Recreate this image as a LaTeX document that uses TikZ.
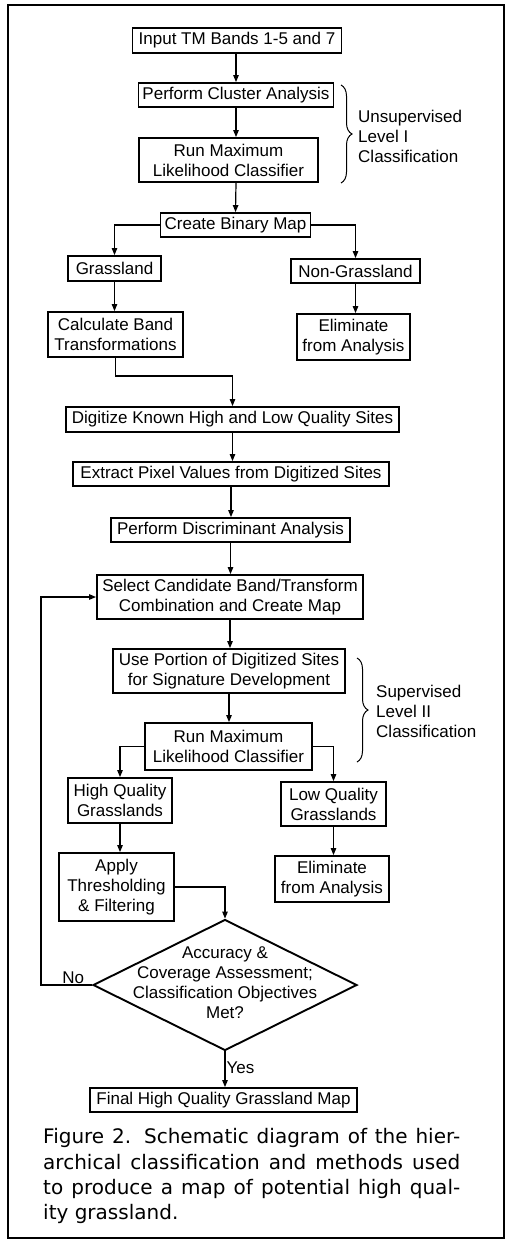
\documentclass[tikz,border=0pt]{standalone}
\usepackage{fontspec}
\setmainfont{Liberation Sans}
\newfontfamily\capfont{DejaVu Sans}
\usetikzlibrary{arrows.meta,shapes.geometric,decorations.pathreplacing,calc}
\begin{document}
\begin{tikzpicture}[x=1pt,y=-1pt,
  box/.style={draw, line width=1.9pt, align=center, inner sep=1pt, font=\fontsize{17}{20}\selectfont},
  arr/.style={line width=1.2pt, -{Triangle[length=7pt,width=5.5pt]}},
  lbl/.style={font=\fontsize{17}{20}\selectfont, align=left, inner sep=0pt},
  brc/.style={decorate, decoration={brace, amplitude=11pt}, line width=1pt},
  captxt/.style={font=\capfont\fontsize{20}{25}\selectfont, anchor=base west, inner sep=0pt}
]
\useasboundingbox (0,0) rectangle (510,1242);
\draw[line width=1.5pt] (8,5) rectangle (504,1238);

% boxes
\node[box, minimum width=209pt, minimum height=25pt] (in) at (237,40.5) {Input TM Bands 1-5 and 7};
\node[box, minimum width=195pt, minimum height=24pt] (clus) at (236,95) {Perform Cluster Analysis};
\node[box, minimum width=179pt, minimum height=44pt] (ml1) at (228.5,160) {Run Maximum\\Likelihood Classifier};
\node[box, minimum width=150pt, minimum height=24pt] (bin) at (235.5,225) {Create Binary Map};
\node[box, minimum width=93pt, minimum height=25pt] (grass) at (114.5,268.5) {Grassland};
\node[box, minimum width=129pt, minimum height=24pt] (nong) at (355.5,271) {Non-Grassland};
\node[box, minimum width=135pt, minimum height=45pt] (calc) at (115.5,334.5) {Calculate Band\\Transformations};
\node[box, minimum width=113pt, minimum height=46pt] (elim1) at (353.5,337) {Eliminate\\from Analysis};
\node[box, minimum width=333pt, minimum height=25pt] (dig) at (232.5,419.5) {Digitize Known High and Low Quality Sites};
\node[box, minimum width=316pt, minimum height=24pt] (ext) at (231,474) {Extract Pixel Values from Digitized Sites};
\node[box, minimum width=239pt, minimum height=24pt] (disc) at (230.5,530) {Perform Discriminant Analysis};
\node[box, minimum width=266pt, minimum height=44pt] (sel) at (230,597) {Select Candidate Band/Transform\\Combination and Create Map};
\node[box, minimum width=232pt, minimum height=44pt] (use) at (229,671) {Use Portion of Digitized Sites\\for Signature Development};
\node[box, minimum width=167pt, minimum height=47pt] (ml2) at (228.5,746.5) {Run Maximum\\Likelihood Classifier};
\node[box, minimum width=104pt, minimum height=45pt] (hq) at (120,800.5) {High Quality\\Grasslands};
\node[box, minimum width=105pt, minimum height=44pt] (lq) at (333.5,804) {Low Quality\\Grasslands};
\node[box, minimum width=115pt, minimum height=68pt] (apply) at (116.5,887) {Apply\\Thresholding\\\& Filtering};
\node[box, minimum width=114pt, minimum height=46pt] (elim2) at (332,879) {Eliminate\\from Analysis};
\node[draw, diamond, line width=1.9pt, minimum width=264pt, minimum height=131pt, inner sep=0pt,
      font=\fontsize{17}{20}\selectfont] (dia) at (225,985)
  {\smash{\makebox[0pt]{\raisebox{-4pt}{\begin{tabular}{@{}c@{}}Accuracy \&\\Coverage Assessment;\\Classification Objectives\\Met?\end{tabular}}}}};
\node[box, minimum width=267pt, minimum height=24pt] (fin) at (223.5,1100) {Final High Quality Grassland Map};

% braces and side labels
\coordinate (b1s) at (341,85);
\coordinate (b1e) at (341,183);
\draw[brc] (b1s) -- (b1e);
\node[lbl, anchor=west] (lab1) at (358,136) {Unsupervised\\Level I\\Classification};
\coordinate (b2s) at (357,658);
\coordinate (b2e) at (357,762);
\draw[brc] (b2s) -- (b2e);
\node[lbl, anchor=west] (lab2) at (376,711) {Supervised\\Level II\\Classification};

% connectors
\draw[arr] (in.south -| clus.north) -- (clus.north);
\draw[arr] (clus.south) -- (clus.south |- ml1.north);
\draw[arr] (clus.south |- ml1.south) -- (bin.north);
\draw[arr] (bin.west) -| (grass.north);
\draw[arr] (bin.east) -| (nong.north);
\draw[arr] (grass.south) -- (grass.south |- calc.north);
\draw[arr] (nong.south) -- (nong.south |- elim1.north);
\draw[arr] (calc.south) -- ++(0,18) -| (dig.north);
\draw[arr] (dig.south) -- (dig.south |- ext.north);
\draw[arr] (ext.south) -- (ext.south |- disc.north);
\draw[arr] (disc.south) -- (disc.south |- sel.north);
\draw[arr] (sel.south) -- (sel.south |- use.north);
\draw[arr] (use.south) -- (use.south |- ml2.north);
\draw[arr] (ml2.west) -| (hq.north);
\draw[arr] (ml2.east) -| (lq.north);
\draw[arr] (hq.south) -- (hq.south |- apply.north);
\draw[arr] (lq.south) -- (lq.south |- elim2.north);
\draw[arr] (apply.east) -| (dia.north);
\draw[arr] (dia.west) -- node[above=1pt, pos=0.37, lbl] {No} ++(-51,0) |- (sel.west);
\draw[arr] (dia.south) -- node[right=1pt, pos=0.45, lbl] {Yes} (dia.south |- fin.north);

% caption
\node[captxt] (c1) at (43,1143) {\makebox[417pt][s]{Figure 2. Schematic diagram of the hier-}};
\node[captxt] (c2) at (43,1169) {\makebox[417pt][s]{archical classification and methods used}};
\node[captxt] (c3) at (43,1194) {\makebox[417pt][s]{to produce a map of potential high qual-}};
\node[captxt] (c4) at (43,1219) {ity grassland.};
\end{tikzpicture}
\end{document}
